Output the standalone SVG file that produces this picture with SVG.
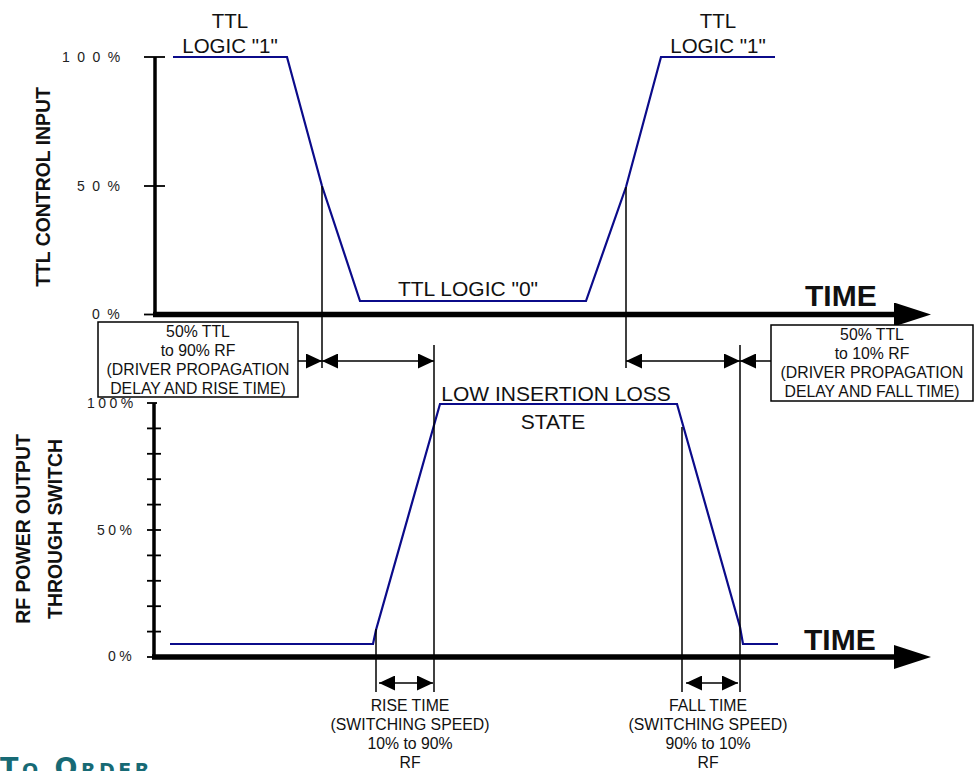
<svg xmlns="http://www.w3.org/2000/svg" width="976" height="771" viewBox="0 0 976 771">
<defs>
<style>
text{font-family:"Liberation Sans",Arial,sans-serif;fill:#111}
.ax{stroke:#000;stroke-width:3.5;fill:none}
.axh{stroke:#000;stroke-width:5.5;fill:none}
.tk{stroke:#000;stroke-width:1.8;fill:none}
.thin{stroke:#000;stroke-width:1.5;fill:none}
.sig{stroke:#0b0b8a;stroke-width:2.2;fill:none;stroke-linejoin:miter}
.box{fill:#fff;stroke:#000;stroke-width:1.5}
.pct{font-size:14px;letter-spacing:1.8px;fill:#222}
.pct2{font-size:14px;letter-spacing:3.5px;fill:#222}
.big{font-size:20.5px;text-anchor:middle}
.bt{font-size:15.8px;text-anchor:middle}
.time{font-size:30px;font-weight:bold}
.ylab{font-size:19.4px;font-weight:bold;text-anchor:middle}
.arr{stroke:#000;stroke-width:1.5;fill:none;marker-end:url(#ah)}
.darr{stroke:#000;stroke-width:1.5;fill:none;marker-start:url(#ah);marker-end:url(#ah)}
</style>
<marker id="ah" viewBox="0 0 16 15" refX="16" refY="7.5" markerWidth="16" markerHeight="15" markerUnits="userSpaceOnUse" orient="auto-start-reverse">
<path d="M0,0 L16,7.5 L0,15 z" fill="#000"/>
</marker>
<marker id="bigah" viewBox="0 0 37 24" refX="0" refY="12" markerWidth="37" markerHeight="24" markerUnits="userSpaceOnUse" orient="auto">
<path d="M0,0 L37,12 L0,24 z" fill="#000"/>
</marker>
</defs>
<rect width="976" height="771" fill="#fff"/>

<g id="top-graph">
<line class="ax" x1="155" y1="57" x2="155" y2="316"/>
<line class="tk" x1="144" y1="57" x2="165" y2="57"/>
<line class="tk" x1="144" y1="186" x2="165" y2="186"/>
<line class="tk" x1="144" y1="314.5" x2="155" y2="314.5"/>
<line class="axh" x1="153" y1="314.5" x2="894" y2="314.5" marker-end="url(#bigah)"/>
<text class="pct" x="62" y="62">1 0 0 %</text>
<text class="pct" x="77" y="191">5 0 %</text>
<text class="pct" x="92" y="319">0 %</text>
<text class="ylab" transform="translate(50,187) rotate(-90)">TTL CONTROL INPUT</text>
<text class="time" x="805" y="306">TIME</text>
<polyline class="sig" points="173,57 287,57 322,186 360,301 586,301 626,187 661,57 775,57"/>
<text class="big" x="230" y="28">TTL</text>
<text class="big" x="230" y="52.5">LOGIC "1"</text>
<text class="big" x="718" y="28">TTL</text>
<text class="big" x="718" y="52.5">LOGIC "1"</text>
<text class="big" x="468" y="296" style="font-size:21px">TTL LOGIC "0"</text>
</g>

<g id="bottom-graph">
<line class="ax" x1="154" y1="403" x2="154" y2="659"/>
<line class="tk" x1="147" y1="403" x2="157" y2="403"/>
<line class="tk" x1="147" y1="428.4" x2="161" y2="428.4"/>
<line class="tk" x1="147" y1="453.8" x2="161" y2="453.8"/>
<line class="tk" x1="147" y1="479.2" x2="161" y2="479.2"/>
<line class="tk" x1="147" y1="504.6" x2="161" y2="504.6"/>
<line class="tk" x1="147" y1="530" x2="161" y2="530"/>
<line class="tk" x1="147" y1="555.4" x2="161" y2="555.4"/>
<line class="tk" x1="147" y1="580.8" x2="161" y2="580.8"/>
<line class="tk" x1="147" y1="606.2" x2="161" y2="606.2"/>
<line class="tk" x1="147" y1="631.6" x2="161" y2="631.6"/>
<line class="tk" x1="147" y1="657" x2="154" y2="657"/>
<line class="axh" x1="152" y1="657" x2="894" y2="657" marker-end="url(#bigah)"/>
<text class="pct2" x="87" y="408">100%</text>
<text class="pct2" x="97" y="535">50%</text>
<text class="pct2" x="108" y="661">0%</text>
<text class="ylab" transform="translate(30,529) rotate(-90)">RF POWER OUTPUT</text>
<text class="ylab" transform="translate(62,529) rotate(-90)">THROUGH SWITCH</text>
<text class="time" x="804" y="650">TIME</text>
<polyline class="sig" points="170,644 373,644 376,630 440,404 677,404 740,627 743,644 778,644"/>
<text class="big" x="556" y="401" style="font-size:21px">LOW INSERTION LOSS</text>
<text class="big" x="553" y="429" style="font-size:21px">STATE</text>
</g>

<g id="guides">
<line class="thin" x1="322" y1="186" x2="322" y2="368"/>
<line class="thin" x1="626" y1="187" x2="626" y2="368"/>
<line class="thin" x1="434" y1="345" x2="434" y2="692"/>
<line class="thin" x1="740" y1="345" x2="740" y2="692"/>
<line class="thin" x1="376" y1="629" x2="376" y2="692"/>
<line class="thin" x1="682" y1="427" x2="682" y2="692"/>
</g>

<g id="box-left">
<rect class="box" x="98" y="322" width="200" height="75"/>
<text class="bt" x="198" y="336.5">50% TTL</text>
<text class="bt" x="198" y="356">to 90% RF</text>
<text class="bt" x="198" y="375">(DRIVER PROPAGATION</text>
<text class="bt" x="198" y="394">DELAY AND RISE TIME)</text>
</g>

<g id="box-right">
<rect class="box" x="771" y="325" width="202" height="76"/>
<text class="bt" x="872" y="340">50% TTL</text>
<text class="bt" x="872" y="359">to 10% RF</text>
<text class="bt" x="872" y="378">(DRIVER PROPAGATION</text>
<text class="bt" x="872" y="397">DELAY AND FALL TIME)</text>
</g>

<g id="label-rise">
<text class="bt" x="410" y="711">RISE TIME</text>
<text class="bt" x="410" y="730">(SWITCHING SPEED)</text>
<text class="bt" x="410" y="749">10% to 90%</text>
<text class="bt" x="410" y="768">RF</text>
</g>

<g id="label-fall">
<text class="bt" x="708" y="711">FALL TIME</text>
<text class="bt" x="708" y="730">(SWITCHING SPEED)</text>
<text class="bt" x="708" y="749">90% to 10%</text>
<text class="bt" x="708" y="768">RF</text>
</g>

<g id="connectors">
<line class="arr" x1="298" y1="361" x2="322" y2="361"/>
<line class="darr" x1="322" y1="361" x2="434" y2="361"/>
<line class="darr" x1="626" y1="361" x2="740" y2="361"/>
<line class="arr" x1="771" y1="361" x2="740" y2="361"/>
<line class="darr" x1="379" y1="683" x2="433" y2="683"/>
<line class="darr" x1="686" y1="683" x2="738" y2="683"/>
</g>

<g id="footer">
<text x="0" y="777" style="font-family:'DejaVu Sans',sans-serif;font-weight:bold;font-size:27px;letter-spacing:3.5px;font-variant:small-caps;fill:#176a75">To Order</text>
</g>
</svg>
